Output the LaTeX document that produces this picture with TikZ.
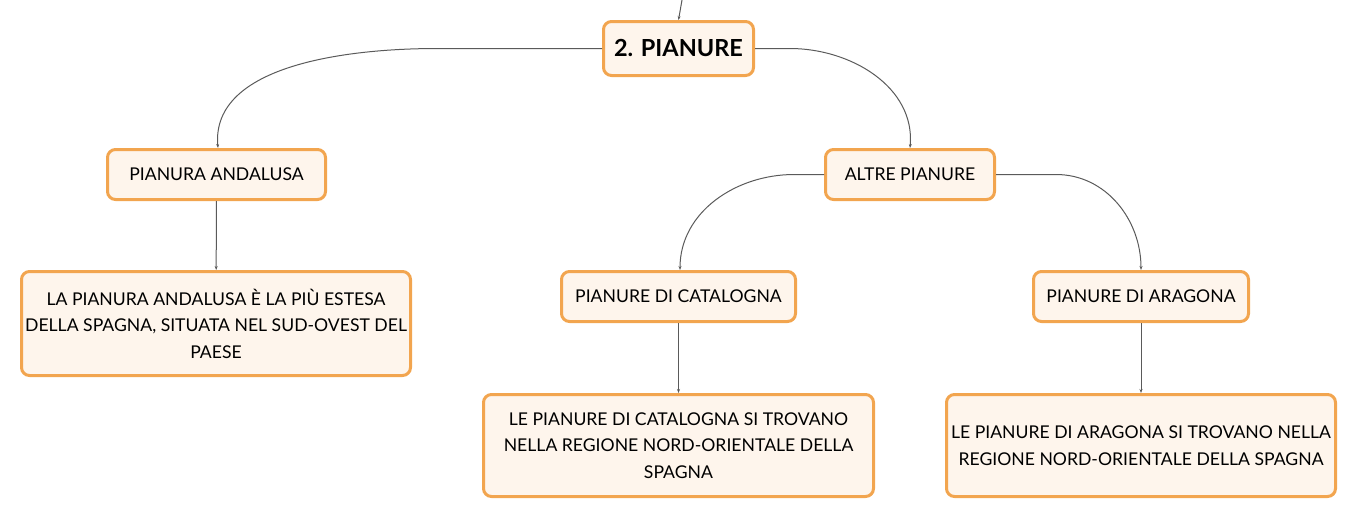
\documentclass[tikz,border=0pt]{standalone}
\usepackage{fontspec}
\setmainfont{Lato}
\usetikzlibrary{arrows.meta}
\definecolor{bordo}{HTML}{F2A54F}
\definecolor{fondo}{HTML}{FEF5EC}
\definecolor{linea}{HTML}{5A5A5A}
\begin{document}
\begin{tikzpicture}[x=1pt,y=-1pt,
  box/.style={draw=bordo,fill=fondo,line width=3pt,rounded corners=8pt,inner sep=0pt,align=center,font=\fontsize{17.6}{26.5}\selectfont},
  title/.style={box,font=\fontsize{23.5}{26}\selectfont\bfseries},
  conn/.style={draw=linea,line width=1pt,-{Stealth[length=4pt,width=3pt]}}]
\useasboundingbox (0,0) rectangle (1359,520);
\node[title,minimum width=150pt,minimum height=54pt] (root) at (678.5,48.5) {2. PIANURE};
\node[box,minimum width=218pt,minimum height=50pt] (and) at (216.5,174.5) {PIANURA ANDALUSA};
\node[box,minimum width=389pt,minimum height=104pt] (andt) at (216,323.5) {LA PIANURA ANDALUSA È LA PIÙ ESTESA\\DELLA SPAGNA, SITUATA NEL SUD-OVEST DEL\\PAESE};
\node[box,minimum width=169pt,minimum height=50pt] (alt) at (910,174.5) {ALTRE PIANURE};
\node[box,minimum width=234pt,minimum height=50pt] (cat) at (678.5,296.5) {PIANURE DI CATALOGNA};
\node[box,minimum width=390pt,minimum height=102pt] (catt) at (678.5,445.5) {LE PIANURE DI CATALOGNA SI TROVANO\\NELLA REGIONE NORD-ORIENTALE DELLA\\SPAGNA};
\node[box,minimum width=215pt,minimum height=50pt] (ara) at (1141,296.5) {PIANURE DI ARAGONA};
\node[box,minimum width=389pt,minimum height=102pt] (arat) at (1141,445.5) {LE PIANURE DI ARAGONA SI TROVANO NELLA\\REGIONE NORD-ORIENTALE DELLA SPAGNA};
\coordinate (top) at (682,0);
\draw[conn] (top) -- (root.north);
\draw[conn] (root.west) -- ++(-165,0) to[out=180,in=95,looseness=0.9] ([xshift=1.5pt]and.north);
\draw[conn] (root.east) -- ++(35,0) to[out=0,in=85,looseness=1] (alt.north);
\draw[conn] (alt.west) -- ++(-30,0) to[out=180,in=90,looseness=1] ([xshift=1.5pt]cat.north);
\draw[conn] (alt.east) -- ++(60,0) to[out=0,in=90,looseness=1] (ara.north);
\draw[conn] (and) -- (andt);
\draw[conn] (cat) -- (catt);
\draw[conn] (ara) -- (arat);
\end{tikzpicture}
\end{document}
